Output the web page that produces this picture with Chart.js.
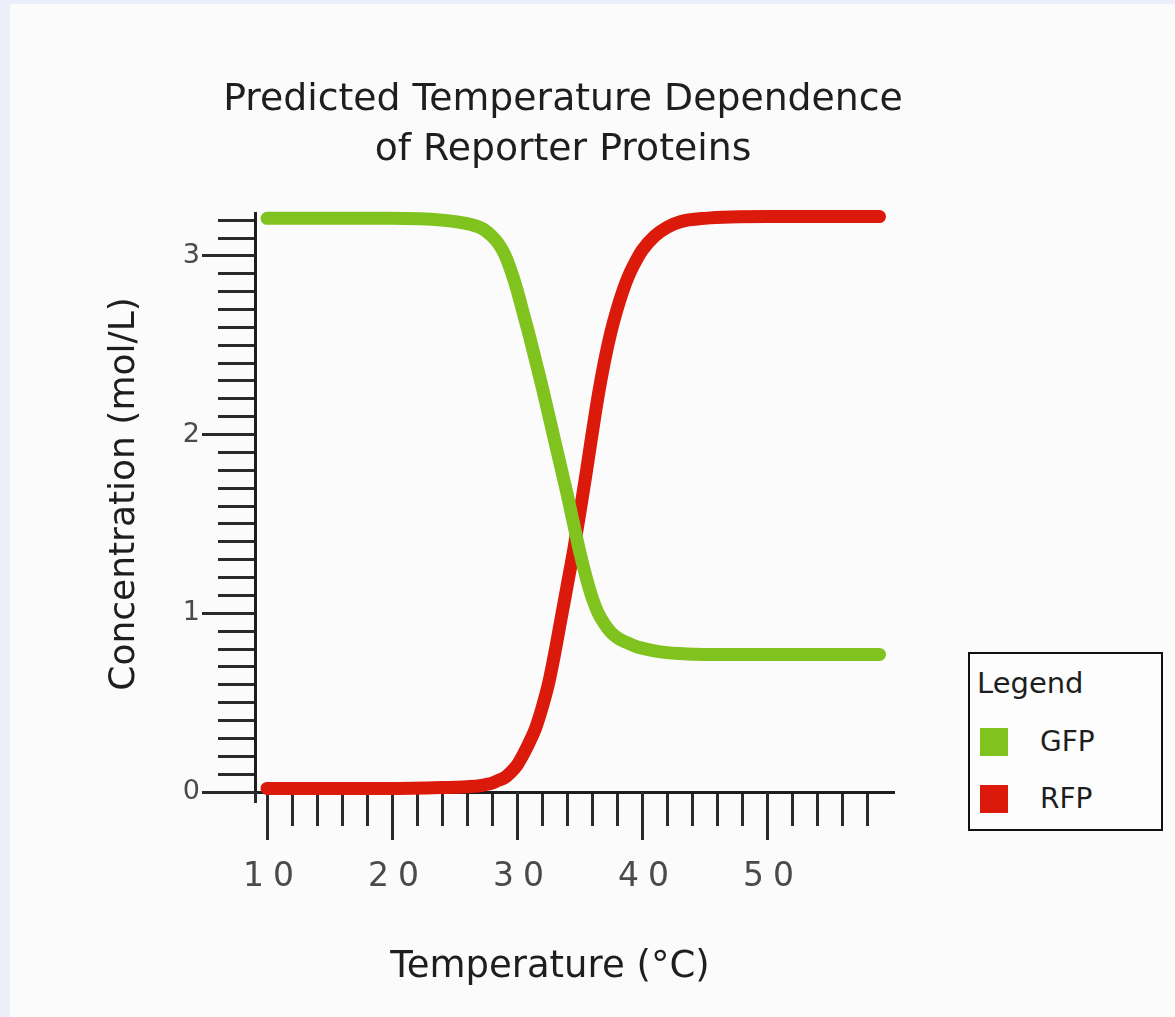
<!DOCTYPE html>
<html>
<head>
<meta charset="utf-8">
<title>Predicted Temperature Dependence of Reporter Proteins</title>
<script src="https://cdn.jsdelivr.net/npm/chart.js@4.4.1/dist/chart.umd.min.js"></script>
<style>
    html, body { margin: 0; padding: 0; }
    body {
        width: 1175px; height: 1017px; overflow: hidden; position: relative;
        background: #eceff9;
        font-family: 'DejaVu Sans', Verdana, sans-serif; color: #1e1e1e;
    }
    #panel { position: absolute; left: 10px; top: 4px; right: 0; bottom: 0; background: #fbfbfb; }
    #chart { position: absolute; left: 0; top: 0; }
    .title {
        position: absolute; left: 0; width: 1126px; top: 72px;
        text-align: center; font-size: 37.8px; line-height: 50px;
    }
    .y-title {
        position: absolute; left: -128px; top: 474px; width: 500px; height: 40px;
        text-align: center; font-size: 36px; line-height: 40px;
        transform: rotate(-90deg);
    }
    .x-title {
        position: absolute; left: 250px; top: 940px; width: 600px;
        text-align: center; font-size: 37px; line-height: 50px;
    }
    #legend {
        position: absolute; left: 968px; top: 652px; width: 195px; height: 179px;
        box-sizing: border-box; border: 2px solid #111; background: #fdfdfd;
        font-size: 29px;
    }
    #legend .head { position: absolute; left: 7px; top: 9px; line-height: 40px; }
    #legend .swatch { position: absolute; left: 10px; width: 28px; height: 28px; }
    #legend .name { position: absolute; left: 70px; line-height: 40px; font-size: 28px; }
</style>
</head>
<body>
<div id="panel"></div>
<canvas id="chart" width="1175" height="1017"></canvas>
<div class="title">Predicted Temperature Dependence<br>of Reporter Proteins</div>
<div class="y-title">Concentration (mol/L)</div>
<div class="x-title">Temperature (°C)</div>
<div id="legend"><span class="head">Legend</span></div>
<script>
// readings
const temperatures = [10, 15, 20, 24, 26, 27, 27.5, 28, 28.5, 29, 29.5, 30, 30.5, 31, 31.5, 32, 32.5, 33, 33.5, 34, 34.5,
                      35, 35.5, 36, 36.5, 37, 37.5, 38, 38.5, 39, 39.5, 40, 41, 42, 43, 45, 50, 55, 59];
const gfpValues = [3.21, 3.21, 3.21, 3.20, 3.18, 3.16, 3.14, 3.11, 3.07, 3.01, 2.92, 2.81, 2.68, 2.55, 2.41, 2.27, 2.12, 1.97, 1.82, 1.67, 1.51,
                   1.35, 1.21, 1.09, 1.00, 0.94, 0.895, 0.865, 0.845, 0.83, 0.815, 0.805, 0.79, 0.78, 0.775, 0.77, 0.77, 0.77, 0.77];
const rfpValues = [0.02, 0.02, 0.02, 0.025, 0.03, 0.035, 0.042, 0.05, 0.065, 0.08, 0.11, 0.15, 0.21, 0.28, 0.36, 0.47, 0.60, 0.77, 0.96, 1.15, 1.34,
                   1.55, 1.77, 2.00, 2.22, 2.41, 2.57, 2.70, 2.81, 2.90, 2.97, 3.03, 3.11, 3.16, 3.19, 3.21, 3.22, 3.22, 3.22];
const xTickLabels = ['10', '20', '30', '40', '50'];
const yTickLabels = ['0', '1', '2', '3'];

const GREEN = '#80c31f';
const RED = '#dc1a0c';
const INK = '#2a2a2a';
const LABEL = '#4a4a4a';

function majorLabel(value, labels) {
    const r = Math.round(value);
    if (Math.abs(value - r) > 1e-6) return '';
    return labels.includes(String(r)) ? String(r) : '';
}

function toPoints(values) {
    return temperatures.map(function(t, i) { return { x: t, y: values[i] }; });
}

// longer marks at the labelled ticks, drawn under the curves
const majorTicks = {
    id: 'majorTicks',
    beforeDatasetsDraw(chart) {
        const { ctx, chartArea, scales: { x, y } } = chart;
        const crisp = p => Math.round(p - 1.5) + 1.5;
        ctx.save();
        ctx.strokeStyle = INK;
        ctx.lineWidth = 3;
        ctx.beginPath();
        y.ticks.forEach(function(t) {
            if (majorLabel(t.value, yTickLabels)) {
                const py = crisp(y.getPixelForValue(t.value));
                ctx.moveTo(chartArea.left - 53, py);
                ctx.lineTo(chartArea.left, py);
            }
        });
        x.ticks.forEach(function(t) {
            if (majorLabel(t.value, xTickLabels)) {
                const px = crisp(x.getPixelForValue(t.value));
                ctx.moveTo(px, chartArea.bottom);
                ctx.lineTo(px, chartArea.bottom + 48);
            }
        });
        // y axis runs a little past the x axis
        const ax = crisp(chartArea.left);
        ctx.moveTo(ax, chartArea.bottom);
        ctx.lineTo(ax, chartArea.bottom + 11);
        ctx.stroke();
        ctx.restore();
    }
};

// the tick numbers are spaced out in the original
const spacedLabels = {
    id: 'spacedLabels',
    beforeDraw(chart) { chart.ctx.letterSpacing = '9px'; }
};

const chart = new Chart(document.getElementById('chart'), {
    type: 'line',
    data: {
        datasets: [
            {
                label: 'GFP',
                data: toPoints(gfpValues),
                borderColor: GREEN,
                backgroundColor: GREEN
            },
            {
                label: 'RFP',
                data: toPoints(rfpValues),
                borderColor: RED,
                backgroundColor: RED
            }
        ]
    },
    options: {
        responsive: false,
        animation: false,
        events: [],
        layout: { padding: { left: 0, top: 213, right: 282, bottom: 0 } },
        elements: {
            line: {
                borderWidth: 13,
                cubicInterpolationMode: 'monotone',
                borderCapStyle: 'round',
                borderJoinStyle: 'round',
                fill: false
            },
            point: { radius: 0 }
        },
        datasets: { line: { clip: false } },
        plugins: {
            legend: { display: false },
            title: { display: false },
            tooltip: { enabled: false }
        },
        scales: {
            x: {
                type: 'linear',
                min: 9.04,
                max: 60.08,
                afterFit: function(scale) { scale.height = 225; },
                afterBuildTicks: function(scale) {
                    scale.ticks = scale.ticks.filter(t => t.value >= 10 && t.value <= 58);
                },
                ticks: {
                    stepSize: 2,
                    includeBounds: false,
                    autoSkip: false,
                    maxRotation: 0,
                    padding: 32,
                    labelOffset: 6,
                    color: LABEL,
                    font: { family: 'DejaVu Sans', size: 33 },
                    callback: value => majorLabel(value, xTickLabels)
                },
                grid: {
                    display: true,
                    drawOnChartArea: false,
                    drawTicks: true,
                    tickLength: 34,
                    tickWidth: 3,
                    lineWidth: 3,
                    tickColor: INK
                },
                border: { display: true, color: '#1e1e1e', width: 3 }
            },
            y: {
                min: 0,
                max: 3.24,
                afterFit: function(scale) { scale.width = 255; },
                afterBuildTicks: function(scale) {
                    scale.ticks = scale.ticks.filter(t => t.value >= -1e-6 && t.value <= 3.2 + 1e-6);
                },
                ticks: {
                    stepSize: 0.1,
                    includeBounds: false,
                    autoSkip: false,
                    padding: 9,
                    color: LABEL,
                    font: { family: 'DejaVu Sans', size: 27 },
                    callback: value => majorLabel(value, yTickLabels)
                },
                grid: {
                    display: true,
                    drawOnChartArea: false,
                    drawTicks: true,
                    tickLength: 37,
                    tickWidth: 3,
                    lineWidth: 3,
                    tickColor: INK
                },
                border: { display: true, color: '#1e1e1e', width: 3 }
            }
        }
    },
    plugins: [majorTicks, spacedLabels]
});

// legend box built from the datasets
const legendBox = document.getElementById('legend');
chart.data.datasets.forEach(function(ds, i) {
    const centre = 88 + i * 57;
    const swatch = document.createElement('span');
    swatch.className = 'swatch';
    swatch.style.top = (centre - 14) + 'px';
    swatch.style.background = ds.borderColor;
    const name = document.createElement('span');
    name.className = 'name';
    name.style.top = (centre - 20) + 'px';
    name.textContent = ds.label;
    legendBox.appendChild(swatch);
    legendBox.appendChild(name);
});
</script>
</body>
</html>
